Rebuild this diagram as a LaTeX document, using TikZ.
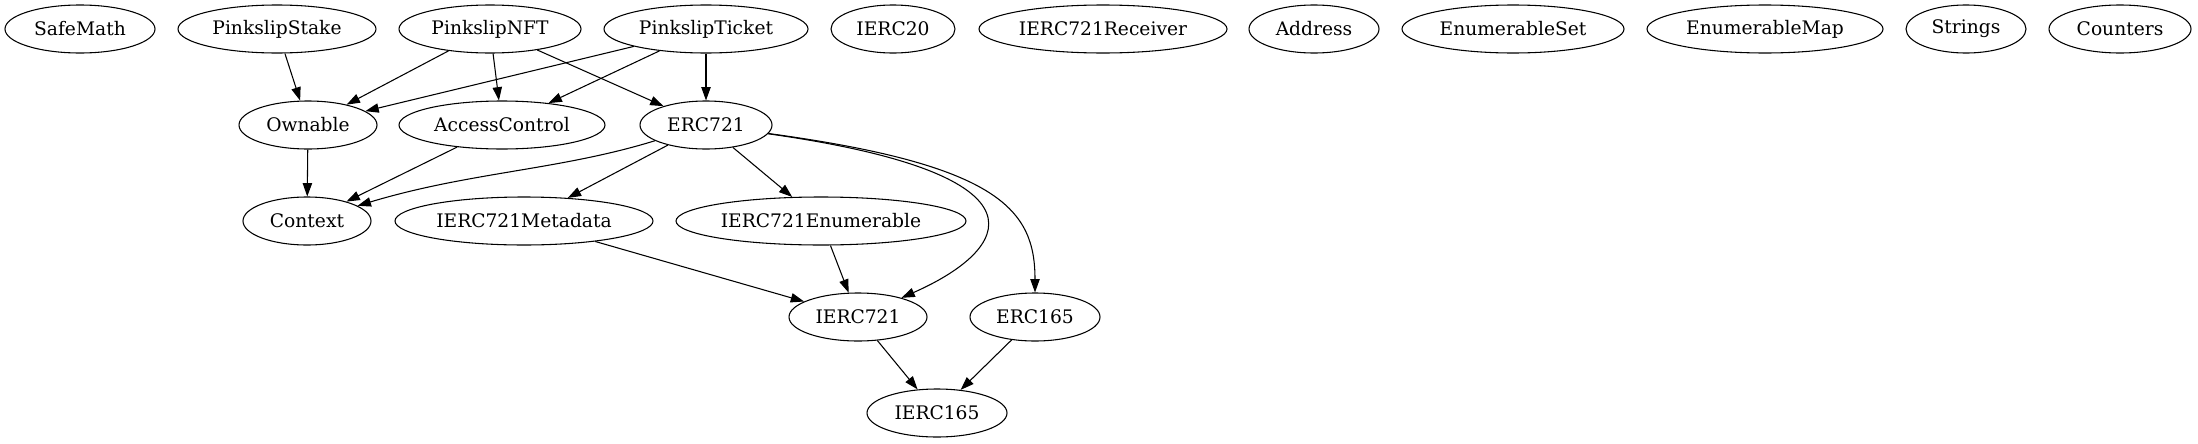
\documentclass[tikz,border=0pt]{standalone}
\usepackage{fontspec}
\setmainfont{DejaVu Serif}
\usetikzlibrary{arrows.meta,shapes.geometric}
\tikzset{
  contract/.style={draw, ellipse, inner sep=0pt, minimum height=36pt, line width=0.8pt,
    font=\fontsize{14}{16}\selectfont},
  dep/.style={-{Triangle[length=10pt,width=7pt]}, line width=0.8pt}
}
\begin{document}
\begin{tikzpicture}[x=0.75pt,y=-0.75pt]
                \useasboundingbox (0,0) rectangle (2198,443);
                \foreach \n/\x/\y/\w in {SafeMath/80/29/75,PinkslipStake/277/29/99,PinkslipNFT/490/29/91,
                    PinkslipTicket/706/29/102,IERC20/893/29/62,IERC721Receiver/1103/29/124,Address/1314/29/65,
                    EnumerableSet/1513/29/111,EnumerableMap/1765/29/118,Strings/1966/29/60,Counters/2120/29/71,
                    Ownable/308/125/69,AccessControl/502/125/103,ERC721/706/125/66,
                    Context/307/221/64,IERC721Metadata/524/221/129,IERC721Enumerable/821/221/145,
                    IERC721/858/317/69,ERC165/1035/317/65,IERC165/937/413/70}
                {
                    \node[contract, minimum width={1.5pt*\w}] (\n) at (\x,\y) {\n};
                }
                \draw[dep] (PinkslipStake) -- (Ownable);
                \draw[dep] (PinkslipNFT) -- (Ownable);
                \draw[dep] (PinkslipNFT) -- (AccessControl);
                \draw[dep] (PinkslipNFT) -- (ERC721);
                \draw[dep] (PinkslipTicket) -- (Ownable);
                \draw[dep] (PinkslipTicket) -- (AccessControl);
                \draw[dep] (PinkslipTicket) -- (ERC721);
                \draw[dep] (Ownable) -- (Context);
                \draw[dep] (AccessControl) -- (Context);
                \draw[dep] (ERC721) .. controls (560,170) and (470,172) .. (Context);
                \draw[dep] (ERC721) -- (IERC721Metadata);
                \draw[dep] (ERC721) -- (IERC721Enumerable);
                \draw[dep] (ERC721) .. controls (1060,175) and (1010,250) .. (IERC721);
                \draw[dep] (ERC721) .. controls (1000,165) and (1035,210) .. (ERC165);
                \draw[dep] (IERC721Metadata) -- (IERC721);
                \draw[dep] (IERC721Enumerable) -- (IERC721);
                \draw[dep] (IERC721) -- (IERC165);
                \draw[dep] (ERC165) -- (IERC165);
\end{tikzpicture}
\end{document}
